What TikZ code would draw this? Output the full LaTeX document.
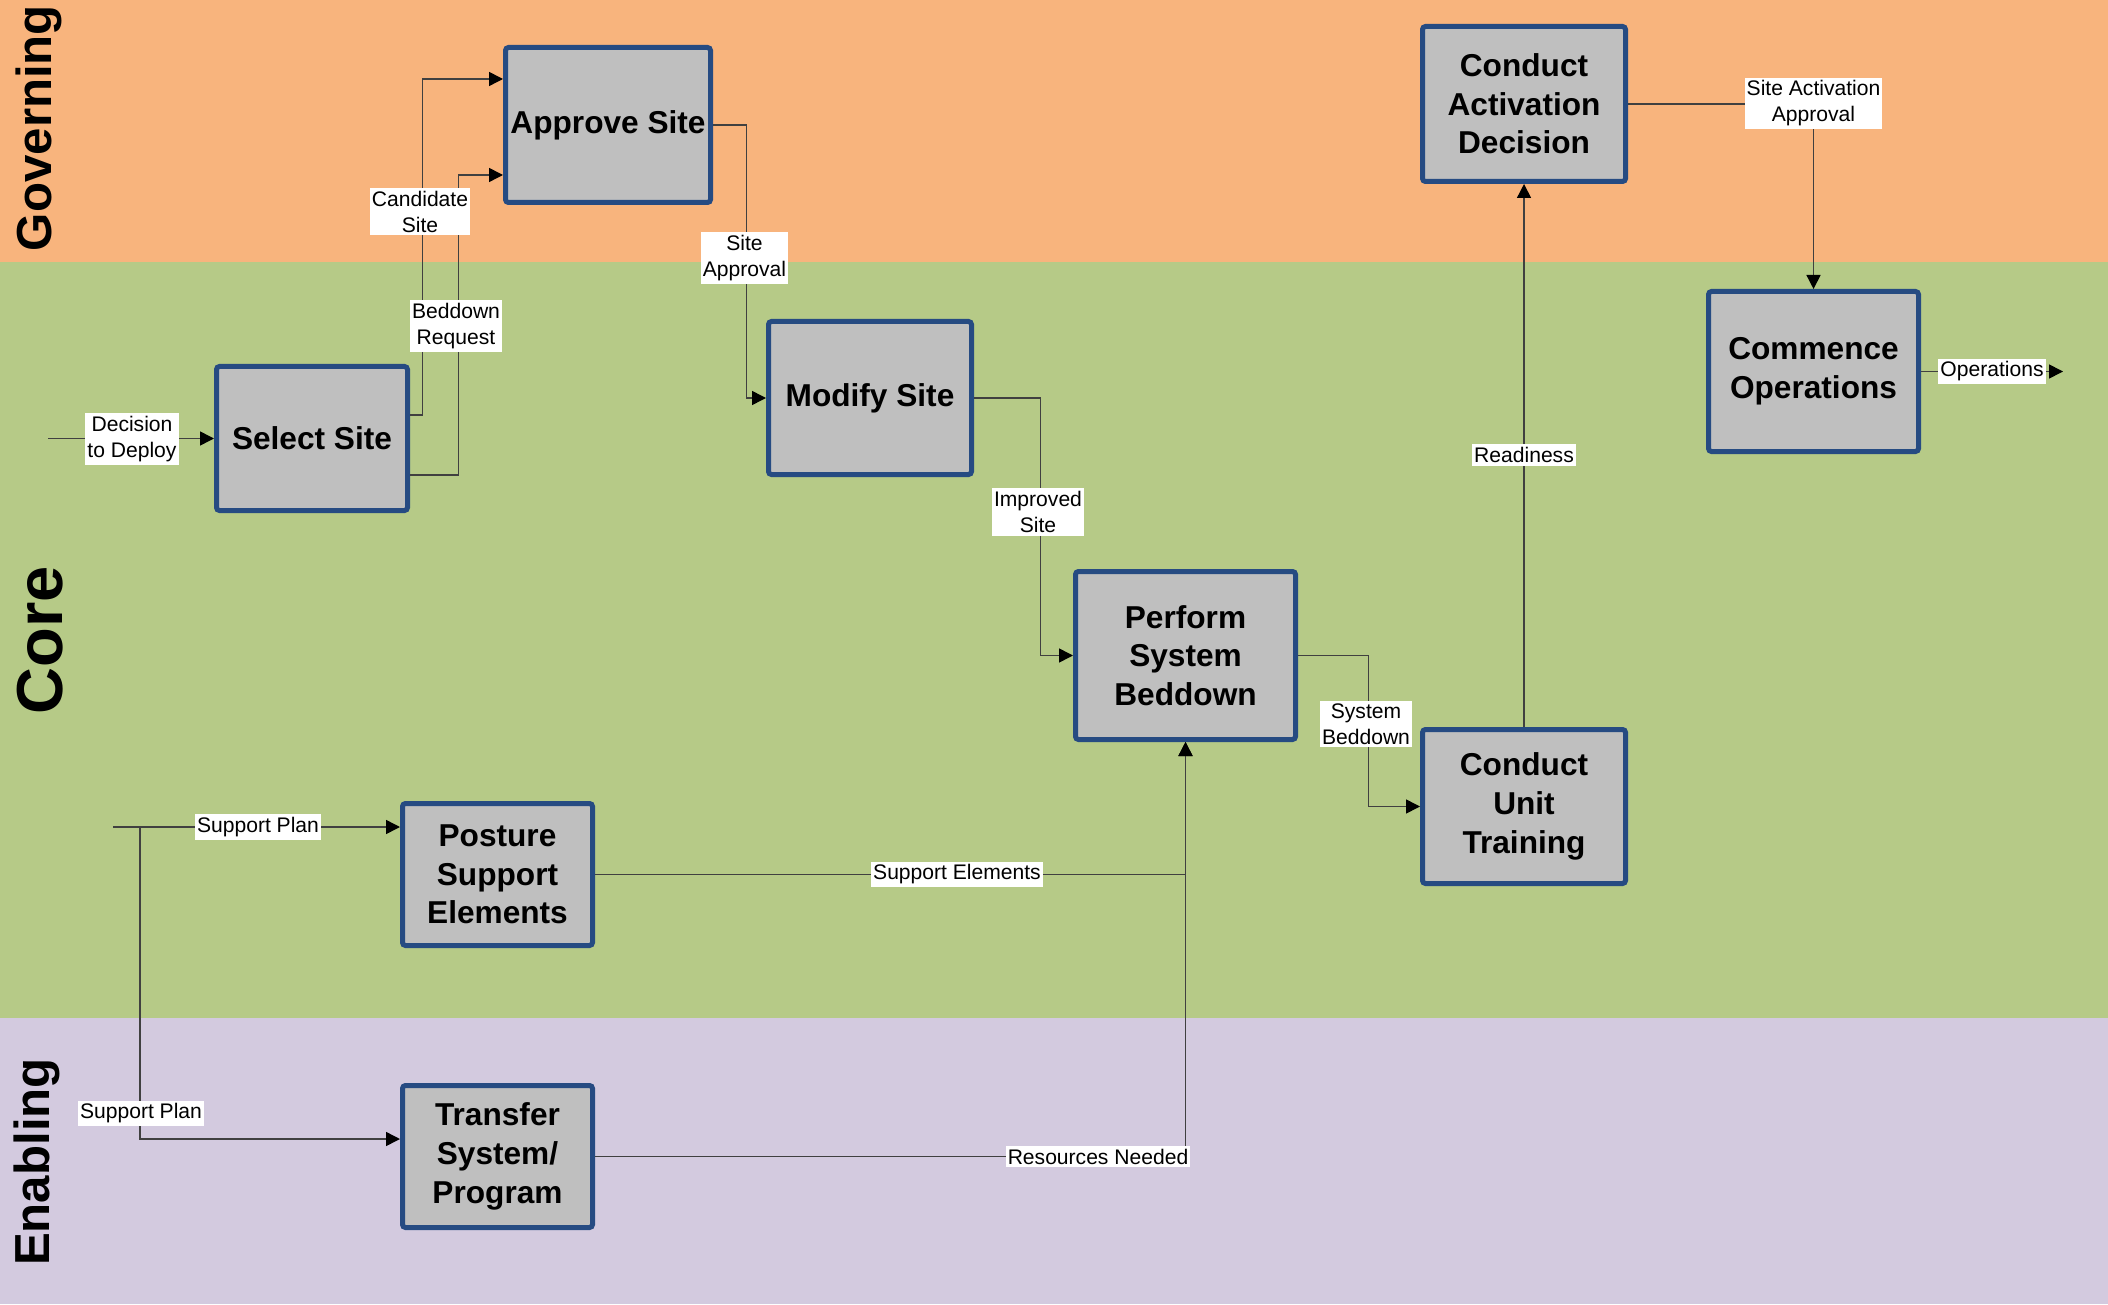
\documentclass[tikz,border=0pt]{standalone}
\usepackage{fontspec}
\setmainfont{Liberation Sans}
\usepackage{tikz}
\usetikzlibrary{arrows.meta}
\definecolor{governing}{RGB}{248, 180, 125}
\definecolor{core}{RGB}{182, 202, 135}
\definecolor{enabling}{RGB}{211, 202, 223}
\definecolor{boxblue}{RGB}{38, 75, 130}
\definecolor{gray75}{gray}{0.75}
\definecolor{wire}{RGB}{64, 64, 64}

\begin{document}
\begin{tikzpicture}[
    proc/.style={draw=boxblue, line width=0.5mm, fill=gray75, rounded corners=0.3mm,
      align=center, inner sep=0, font=\bfseries\fontsize{9}{11}\selectfont},
    flow/.style={draw=wire, line width=0.15mm, -{Triangle[length=1.4mm, width=1.4mm, color=black]}},
    tag/.style={fill=white, align=center, inner xsep=0.2mm, inner ysep=0.3mm,
      font=\fontsize{6}{7.4}\selectfont},
    lane/.style={rotate=90, inner sep=0, font=\bfseries\fontsize{14}{14}\selectfont}]

  \useasboundingbox (0, 0) rectangle (21.08, 13.04);

  % swim lanes
  \fill[governing] (0, 10.42) rectangle (21.08, 13.04);
  \fill[core] (0, 2.86) rectangle (21.08, 10.42);
  \fill[enabling] (0, 0) rectangle (21.08, 2.86);

  \node[lane] (govlabel) at (0.385, 11.76) {Governing};
  \node[lane, font=\bfseries\fontsize{18.5}{18.5}\selectfont] (corelabel) at (0.40, 6.64) {Core};
  \node[lane] (enablabel) at (0.37, 1.42) {Enabling};

  % activities
  \node[proc, minimum width=20.5mm, minimum height=15.5mm] (approve) at (6.08, 11.79) {Approve Site};
  \node[proc, minimum width=19.1mm, minimum height=14.4mm] (select) at (3.12, 8.655) {Select Site};
  \node[proc, minimum width=20.3mm, minimum height=15.3mm] (modify) at (8.70, 9.06) {Modify Site};
  \node[proc, minimum width=20.3mm, minimum height=15.5mm] (activation) at (15.24, 12.00) {Conduct\\Activation\\Decision};
  \node[proc, minimum width=21.0mm, minimum height=16.0mm] (commence) at (18.135, 9.325) {Commence\\Operations};
  \node[proc, minimum width=22.0mm, minimum height=16.8mm] (beddown) at (11.855, 6.485) {Perform\\System\\Beddown};
  \node[proc, minimum width=20.3mm, minimum height=15.4mm] (training) at (15.24, 4.975) {Conduct\\Unit\\Training};
  \node[proc, minimum width=19.0mm, minimum height=14.2mm] (posture) at (4.975, 4.295) {Posture\\Support\\Elements};
  \node[proc, minimum width=19.0mm, minimum height=14.2mm] (transfer) at (4.975, 1.475) {Transfer\\System/\\Program};

  % flows
  \coordinate (deploy) at (0.48, 8.655);
  \draw[flow] (deploy) -- (select.west);
  \draw[flow] ([yshift=2.35mm]select.east) -- ++(0.125, 0) |- ([yshift=4.6mm]approve.west);
  \draw[flow] ([yshift=-3.65mm]select.east) -- ++(0.485, 0) |- ([yshift=-5mm]approve.west);
  \draw[flow] (approve.east) -- ++(0.335, 0) |- (modify.west);
  \draw[flow] (modify.east) -- ++(0.665, 0) |- (beddown.west);
  \draw[flow] (beddown.east) -- ++(0.705, 0) |- (training.west);
  \draw[flow] (training.north) -- (activation.south);
  \draw[flow] (activation.east) -| (commence.north);
  \coordinate (ops) at (20.63, 9.325);
  \draw[flow] (commence.east) -- (ops);
  \coordinate (plan) at (1.13, 4.77);
  \coordinate (fork) at (1.40, 4.77);
  \draw[flow] (plan) -- (plan -| posture.west);
  \draw[flow] (fork) |- ([yshift=1.75mm]transfer.west);
  \draw[flow] (posture.east) -| (beddown.south);
  \draw[flow] (transfer.east) -| (beddown.south);

  % flow labels
  \node[tag] (deploylabel) at (1.32, 8.65) {Decision\\to Deploy};
  \node[tag] (candidate) at (4.20, 10.925) {Candidate\\Site};
  \node[tag] (request) at (4.56, 9.78) {Beddown\\Request};
  \node[tag] (siteapproval) at (7.445, 10.46) {Site\\Approval};
  \node[tag] (improved) at (10.38, 7.92) {Improved\\Site};
  \node[tag] (sysbeddown) at (13.66, 5.80) {System\\Beddown};
  \node[tag] (readiness) at (15.24, 8.49) {Readiness};
  \node[tag] (activapproval) at (18.135, 12.005) {Site Activation\\Approval};
  \node[tag] (operations) at (19.92, 9.325) {Operations};
  \node[tag] (plantop) at (2.58, 4.77) {Support Plan};
  \node[tag] (planbottom) at (1.41, 1.905) {Support Plan};
  \node[tag] (elements) at (9.57, 4.295) {Support Elements};
  \node[tag] (resources) at (10.98, 1.475) {Resources Needed};

\end{tikzpicture}
\end{document}
